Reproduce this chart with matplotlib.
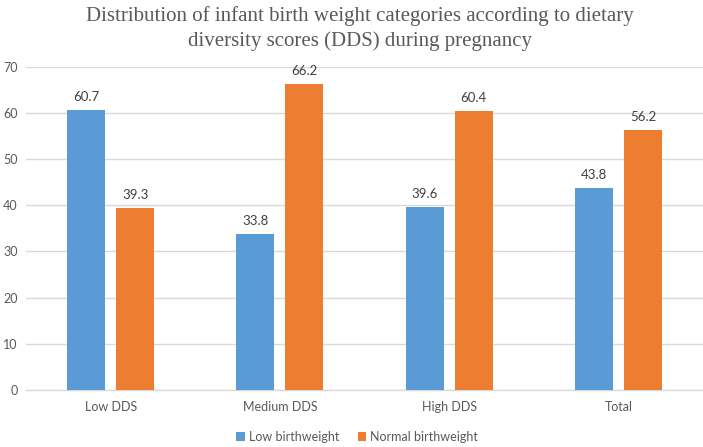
import numpy as np
import matplotlib
matplotlib.use("Agg")
import matplotlib.pyplot as plt

categories = ["Low DDS", "Medium DDS", "High DDS", "Total"]
low_bw = [60.7, 33.8, 39.6, 43.8]
normal_bw = [39.3, 66.2, 60.4, 56.2]
series_names = ["Low birthweight", "Normal birthweight"]
yticks = [0, 10, 20, 30, 40, 50, 60, 70]

text_col = "#595959"
plt.rcParams['font.family'] = ['Lato', 'DejaVu Sans']

fig = plt.figure(figsize=(7.03, 4.47), dpi=100)
ax = fig.add_axes([0.037, 0.1275, 0.963, 0.7235])

x = np.arange(len(categories))
w = 0.225
off = 0.145
b1 = ax.bar(x - off, low_bw, w, color="#5B9BD5", label=series_names[0], zorder=3)
b2 = ax.bar(x + off, normal_bw, w, color="#ED7D31", label=series_names[1], zorder=3)

for bars in (b1, b2):
    for r in bars:
        ax.annotate(f"{r.get_height():.1f}", (r.get_x() + r.get_width() / 2, r.get_height()),
                    xytext=(0, 5), textcoords="offset points", ha="center", va="bottom",
                    fontsize=9.5, color="#404040")

ax.set_xlim(-0.5, len(categories) - 0.5)
ax.set_ylim(0, 70)
ax.set_yticks(yticks)
ax.set_xticks(x)
ax.set_xticklabels(categories)
ax.tick_params(axis="both", length=0, labelsize=9, colors=text_col)
ax.tick_params(axis="y", pad=6)
ax.tick_params(axis="x", pad=8)
ax.grid(axis="y", color="#D9D9D9", linewidth=1, zorder=0)
for s in ["top", "right", "left"]:
    ax.spines[s].set_visible(False)
ax.spines["bottom"].set_color("#D9D9D9")
ax.spines["bottom"].set_linewidth(1)

fig.text(0.512, 0.937, "Distribution of infant birth weight categories according to dietary\ndiversity scores (DDS) during pregnancy",
         ha="center", va="center", fontsize=15, color=text_col, family="Liberation Serif",
         linespacing=1.35)

fig.legend(loc="center", bbox_to_anchor=(0.508, 0.022), ncol=2, frameon=False,
           fontsize=9, labelcolor=text_col, handlelength=0.7, handleheight=0.7,
           handletextpad=0.3, columnspacing=1.5)

fig.savefig("out.png", dpi=100)
